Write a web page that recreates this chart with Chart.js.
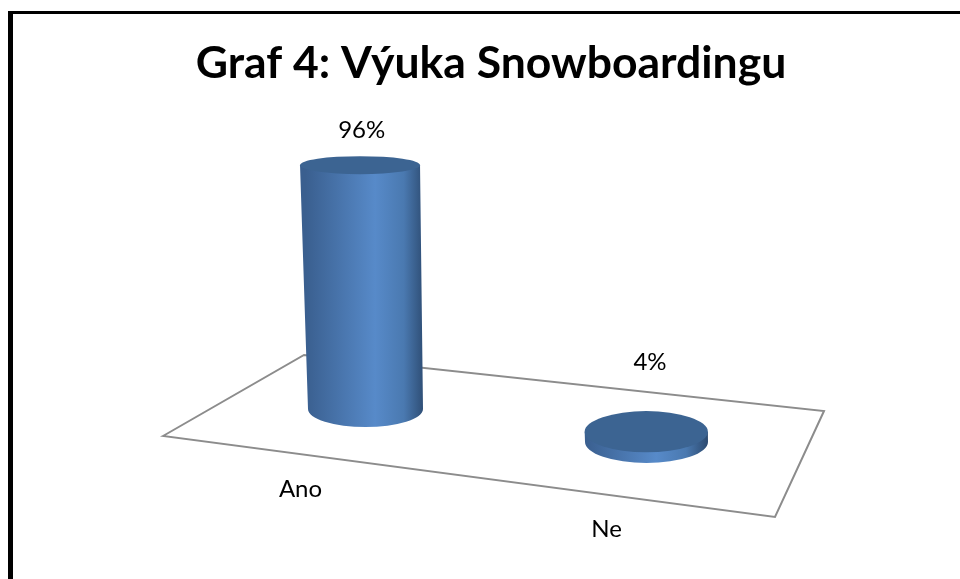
<!DOCTYPE html>
<html>
<head>
<meta charset="utf-8">
<style>
    html, body { margin: 0; background: #fff; overflow: hidden; }
    #frame { position: absolute; left: 8px; top: 11px; right: 0; bottom: 0; border-left: 5px solid #000; border-top: 3px solid #000; }
    #grafico { position: absolute; left: 0; top: 0; }
</style>
<script src="https://cdn.jsdelivr.net/npm/chart.js@4"></script>
</head>
<body>
<div id="frame"></div>
<canvas id="grafico" width="960" height="579"></canvas>
<script>
const titulo = 'Graf 4: Výuka Snowboardingu';
const categorias = ['Ano', 'Ne'];
const valores = [96, 4];

const fonte = 'Lato, "Liberation Sans", sans-serif';
const piso = [[163, 436], [304, 355], [824, 411], [775, 517]];
const inclinacao = 0.117; // the baseline of the bars drops to the right

const cilindros = {
    id: 'cilindros',
    beforeDatasetsDraw(chart) {
        const ctx = chart.ctx;
        ctx.save();
        ctx.beginPath();
        piso.forEach((p, i) => i ? ctx.lineTo(p[0], p[1]) : ctx.moveTo(p[0], p[1]));
        ctx.closePath();
        ctx.strokeStyle = '#8c8c8c';
        ctx.lineWidth = 2;
        ctx.stroke();
        ctx.restore();
    },
    afterDatasetsDraw(chart) {
        const ctx = chart.ctx;
        const barras = chart.getDatasetMeta(0).data;
        const escalaX = chart.scales.x;
        ctx.save();
        barras.forEach((barra, i) => {
            const v = valores[i];
            const desvio = barra.x - barras[0].x;
            const queda = inclinacao * desvio;
            const baseY = barra.base + queda;
            const topoY = barra.y + queda;
            const rxBase = barra.width / 2 - 2.5 + 0.0142 * desvio;
            const rxTopo = rxBase + 0.026 * v;
            const ryBase = 18 + 0.0107 * desvio;
            const ryTopo = ryBase - 0.094 * v;
            const xTopo = barra.x - 0.057 * v;

            const grad = ctx.createLinearGradient(barra.x - rxTopo, 0, barra.x + rxTopo, 0);
            grad.addColorStop(0, '#3a5f8f');
            grad.addColorStop(0.58, '#578ac9');
            grad.addColorStop(0.82, '#4a79b0');
            grad.addColorStop(1, '#2c4a70');

            ctx.beginPath();
            ctx.moveTo(xTopo - rxTopo, topoY);
            ctx.lineTo(barra.x - rxBase, baseY);
            ctx.ellipse(barra.x, baseY, rxBase, ryBase, 0, Math.PI, 0, true);
            ctx.lineTo(xTopo + rxTopo, topoY);
            ctx.closePath();
            ctx.fillStyle = grad;
            ctx.fill();

            ctx.beginPath();
            ctx.ellipse(xTopo, topoY, rxTopo, ryTopo, 0, 0, Math.PI * 2);
            ctx.fillStyle = '#3c6492';
            ctx.fill();

            ctx.fillStyle = '#000';
            ctx.font = '24px ' + fonte;
            ctx.textAlign = 'center';
            ctx.textBaseline = 'middle';
            ctx.fillText(v + '%', xTopo + 1.7 + 0.0071 * desvio, topoY - (8 + 3 * ryTopo));

            // category labels sit under the front edge of the floor
            const f = (i + 0.5) / categorias.length;
            const lx = piso[0][0] + f * (piso[3][0] - piso[0][0]);
            const ly = piso[0][1] + f * (piso[3][1] - piso[0][1]);
            ctx.fillText(escalaX.getLabelForValue(i), lx - 15.5, ly + 33);
        });
        ctx.restore();
    }
};

new Chart(document.getElementById('grafico').getContext('2d'), {
    type: 'bar',
    data: {
        labels: categorias,
        datasets: [{
            data: valores,
            backgroundColor: 'transparent',
            barPercentage: 120 / 281,
            categoryPercentage: 1
        }]
    },
    options: {
        responsive: false,
        animation: false,
        layout: { padding: { left: 195, right: 173, top: 0, bottom: 170 } },
        plugins: {
            legend: { display: false },
            tooltip: { enabled: false },
            title: {
                display: true,
                text: titulo,
                color: '#000',
                font: { family: fonte, size: 44.5, weight: 'bold' },
                padding: { top: 37, bottom: 64.6 }
            }
        },
        scales: {
            x: { display: false },
            y: {
                min: 0,
                max: 100,
                grid: { display: false },
                border: { display: false },
                ticks: { display: false },
                afterFit(escala) { escala.width = 30; }
            }
        }
    },
    plugins: [cilindros]
});
</script>
</body>
</html>
